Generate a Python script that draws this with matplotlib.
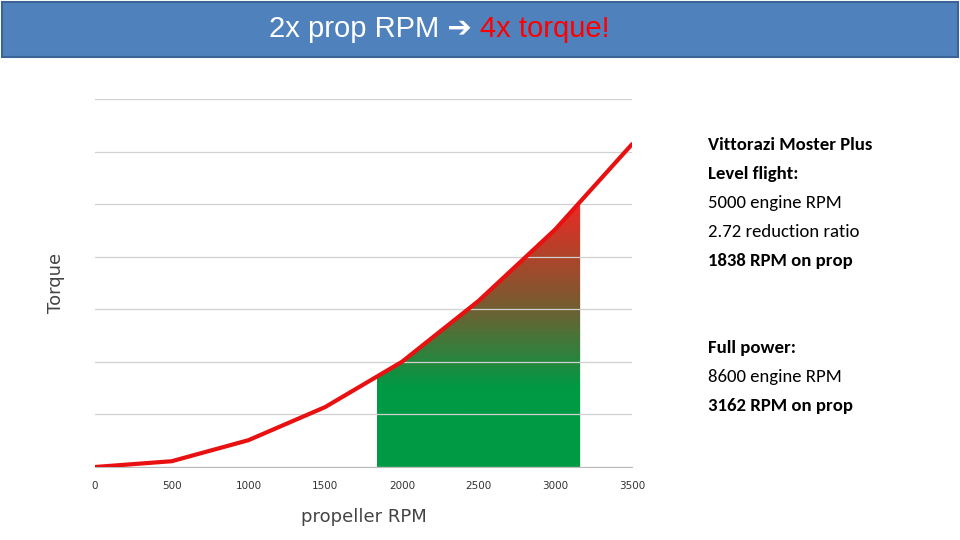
import matplotlib
matplotlib.use("Agg")
import matplotlib.pyplot as plt
import numpy as np
from matplotlib.colors import LinearSegmentedColormap
from matplotlib.patches import Rectangle

rpm = [0, 500, 1000, 1500, 2000, 2500, 3000, 3500]
torque = [0.0, 0.11, 0.51, 1.14, 2.0, 3.16, 4.52, 6.14]
x_ticks = [0, 500, 1000, 1500, 2000, 2500, 3000, 3500]
level_rpm = 1838
full_rpm = 3162

fig = plt.figure(figsize=(9.6, 5.4), dpi=100)
fig.patch.set_facecolor("white")

# title banner
fig.patches.append(Rectangle((2/960, 1-57/540), 956/960, 55/540, transform=fig.transFigure,
                             facecolor="#4F81BD", edgecolor="#3A6496", lw=1.5))
fig.text(0.5, 1-29/540, "2x prop RPM \u2794 ", color="white", fontsize=21, ha="right", va="center",
         family=["Calibri", "Liberation Sans", "DejaVu Sans"])
fig.text(0.5, 1-29/540, "4x torque!", color="#FF0000", fontsize=21, ha="left", va="center",
         family=["Liberation Sans", "DejaVu Sans"])

ax = fig.add_axes([95/960, (540-467)/540, 537/960, (467-99)/540])
ax.set_xlim(0, 3500)
ax.set_ylim(0, 7)
ax.set_yticks(range(0, 8))
ax.set_yticklabels([])
ax.tick_params(axis="y", length=0)
ax.tick_params(axis="x", length=0, labelsize=7.5, colors="#333333", pad=10)
ax.set_xticks(x_ticks)
ax.grid(axis="y", color="#D0D0D0", lw=0.9)
for s in ["top", "right", "left"]:
    ax.spines[s].set_visible(False)
ax.spines["bottom"].set_color("#BBBBBB")

# gradient fill
xs = np.linspace(level_rpm, full_rpm, 200)
ys = np.interp(xs, rpm, torque)
poly = ax.fill_between(xs, 0, ys, facecolor="none", edgecolor="none")
cmap = LinearSegmentedColormap.from_list("g", [(0, "#009A44"), (0.3, "#009A44"), (0.62, "#7A5A30"), (1, "#EE2A24")])
grad = np.linspace(0, 1, 256).reshape(-1, 1)
top = max(ys)
im = ax.imshow(grad, extent=[level_rpm, full_rpm, 0, top], origin="lower", aspect="auto", cmap=cmap, zorder=1)
path = poly.get_paths()[0]
im.set_clip_path(path, transform=ax.transData)
ax.set_xlim(0, 3500)
ax.set_ylim(0, 7)

ax.plot(rpm, torque, color="#E81010", lw=3, zorder=3, solid_capstyle="round")

ax.set_xlabel("propeller RPM", fontsize=13, color="#444444", labelpad=12)
ax.set_ylabel("Torque", fontsize=13, color="#444444", labelpad=18)

lines = [("Vittorazi Moster Plus", True), ("Level flight:", True), ("5000 engine RPM", False),
         ("2.72 reduction ratio", False), ("1838 RPM on prop", True), ("", False), ("", False),
         ("Full power:", True), ("8600 engine RPM", False), ("3162 RPM on prop", True)]
y0 = 145
for i, (t, b) in enumerate(lines):
    if t:
        fig.text(708/960, 1-(y0+i*29)/540, t, fontsize=13.5, fontweight="bold" if b else "normal",
                 va="center", ha="left", family=["Carlito", "Liberation Sans", "DejaVu Sans"])

fig.savefig("out.png", dpi=100)
